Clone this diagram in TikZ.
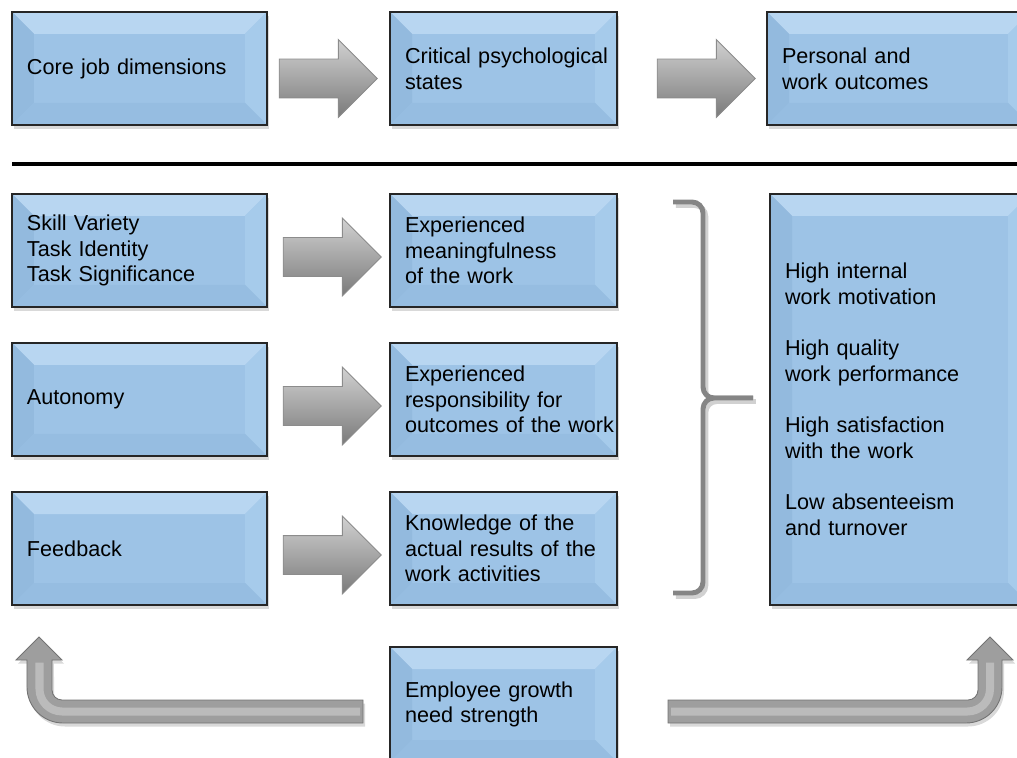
\documentclass[tikz,border=0pt]{standalone}
\usepackage{fontspec}
\setmainfont{Liberation Sans}
\usetikzlibrary{calc, shapes.arrows, shadows}

\definecolor{boxblue}{RGB}{157,195,230}
\definecolor{bevtop}{RGB}{184,214,241}
\definecolor{bevleft}{RGB}{147,186,222}
\definecolor{bevright}{RGB}{166,203,235}
\definecolor{bevbottom}{RGB}{150,189,225}

\tikzset{
  jobbox/.style={draw=black!85, line width=0.8pt, fill=boxblue, minimum height=2.26cm,
    inner xsep=0.3cm, align=left, font=\fontsize{12.3}{14.6}\selectfont,
    drop shadow={shadow xshift=0.04cm, shadow yshift=-0.08cm, opacity=0.3},
    path picture={
      \fill[bevtop] (path picture bounding box.north west) -- (path picture bounding box.north east)
        -- ([shift={(-0.44,-0.44)}]path picture bounding box.north east)
        -- ([shift={(0.44,-0.44)}]path picture bounding box.north west) -- cycle;
      \fill[bevleft] (path picture bounding box.north west) -- (path picture bounding box.south west)
        -- ([shift={(0.44,0.44)}]path picture bounding box.south west)
        -- ([shift={(0.44,-0.44)}]path picture bounding box.north west) -- cycle;
      \fill[bevright] (path picture bounding box.north east) -- (path picture bounding box.south east)
        -- ([shift={(-0.44,0.44)}]path picture bounding box.south east)
        -- ([shift={(-0.44,-0.44)}]path picture bounding box.north east) -- cycle;
      \fill[bevbottom] (path picture bounding box.south west) -- (path picture bounding box.south east)
        -- ([shift={(-0.44,0.44)}]path picture bounding box.south east)
        -- ([shift={(0.44,0.44)}]path picture bounding box.south west) -- cycle;
    }},
  leftbox/.style={jobbox, text width=4.5cm},
  midbox/.style={jobbox, text width=3.94cm},
  rightbox/.style={jobbox, text width=4.66cm},
  flowarrow/.style={single arrow, single arrow head extend=0.39cm, single arrow tip angle=90,
    inner xsep=0pt, inner ysep=0.38cm, minimum height=1.96cm, minimum width=0pt, outer sep=0pt,
    top color=black!18, bottom color=black!52, draw=black!45, line width=0.5pt, anchor=tip},
  uarrow/.style={fill=black!38, draw=black!55, line width=0.5pt,
    drop shadow={shadow xshift=0.04cm, shadow yshift=-0.07cm, opacity=0.3}},
  brace/.style={draw=black!48, line width=2.8pt, rounded corners=0.22cm,
    preaction={draw=black!18, line width=2.8pt, transform canvas={xshift=1.6pt, yshift=-2pt}}}
}

\begin{document}
\begin{tikzpicture}
  \useasboundingbox (0,0) rectangle (20.34,-15.16);

  \node[leftbox] (core) at (2.79,-1.37) {Core job dimensions};
  \node[midbox] (states) at (10.07,-1.37) {\mbox{Critical psychological}\\states};
  \node[rightbox] (outcomes) at (17.97,-1.37) {Personal and\\work outcomes};

  \draw[line width=2.8pt] (0.24,-3.28) -- (20.5,-3.28);

  \node[leftbox] (skill) at (2.79,-5.01) {Skill Variety\\Task Identity\\Task Significance};
  \node[leftbox] (autonomy) at (2.79,-7.99) {Autonomy};
  \node[leftbox] (feedback) at (2.79,-10.97) {Feedback};

  \node[midbox] (meaning) at (10.07,-5.01) {Experienced\\meaningfulness\\of the work};
  \node[midbox] (respons) at (10.07,-7.99) {Experienced\\responsibility for\\\mbox{outcomes of the work}};
  \node[midbox] (knowledge) at (10.07,-10.97) {Knowledge of the\\\mbox{actual results of the}\\work activities};

  \node[rightbox, text width=4.6cm, minimum height=8.22cm] (results) at (18.0,-7.99)
    {High internal\\work motivation\\[14.6pt]High quality\\work performance\\[14.6pt]High satisfaction\\with the work\\[14.6pt]Low absenteeism\\and turnover};

  \node[midbox, minimum height=2.3cm] (growth) at (10.07,-14.09) {Employee growth\\need strength};

  \node[flowarrow] (a1) at ([xshift=-0.24cm, yshift=-0.2cm]states.west) {};
  \node[flowarrow] (a2) at ([xshift=-0.22cm, yshift=-0.2cm]outcomes.west) {};
  \node[flowarrow] (a3) at ([xshift=-0.16cm, yshift=-0.13cm]meaning.west) {};
  \node[flowarrow] (a4) at ([xshift=-0.16cm, yshift=-0.13cm]respons.west) {};
  \node[flowarrow] (a5) at ([xshift=-0.16cm, yshift=-0.13cm]knowledge.west) {};

  \draw[brace] (13.46,-4.04) -| (14.06,-7.96) -- (15.06,-7.96);
  \draw[brace] (15.06,-7.96) -- (14.06,-7.96) |- (13.46,-11.86);

  \path[uarrow] (7.26,-14.00) -- (1.24,-14.00) arc[start angle=-90, end angle=-180, radius=0.2]
    -- (1.04,-13.20) -- (1.24,-13.20) -- (0.78,-12.74) -- (0.32,-13.20) -- (0.54,-13.20)
    -- (0.54,-13.74) arc[start angle=180, end angle=270, radius=0.72] -- (7.26,-14.46) -- cycle;
  \draw[white, opacity=0.3, line width=0.16cm, rounded corners=0.45cm] (7.2,-14.23) -| (0.79,-13.25);

  \path[uarrow] (13.36,-14.00) -- (19.36,-14.00) arc[start angle=-90, end angle=0, radius=0.2]
    -- (19.56,-13.20) -- (19.34,-13.20) -- (19.80,-12.74) -- (20.26,-13.20) -- (20.04,-13.20)
    -- (20.04,-13.74) arc[start angle=0, end angle=-90, radius=0.72] -- (13.36,-14.46) -- cycle;
  \draw[white, opacity=0.3, line width=0.16cm, rounded corners=0.45cm] (13.42,-14.23) -| (19.80,-13.25);
\end{tikzpicture}
\end{document}
